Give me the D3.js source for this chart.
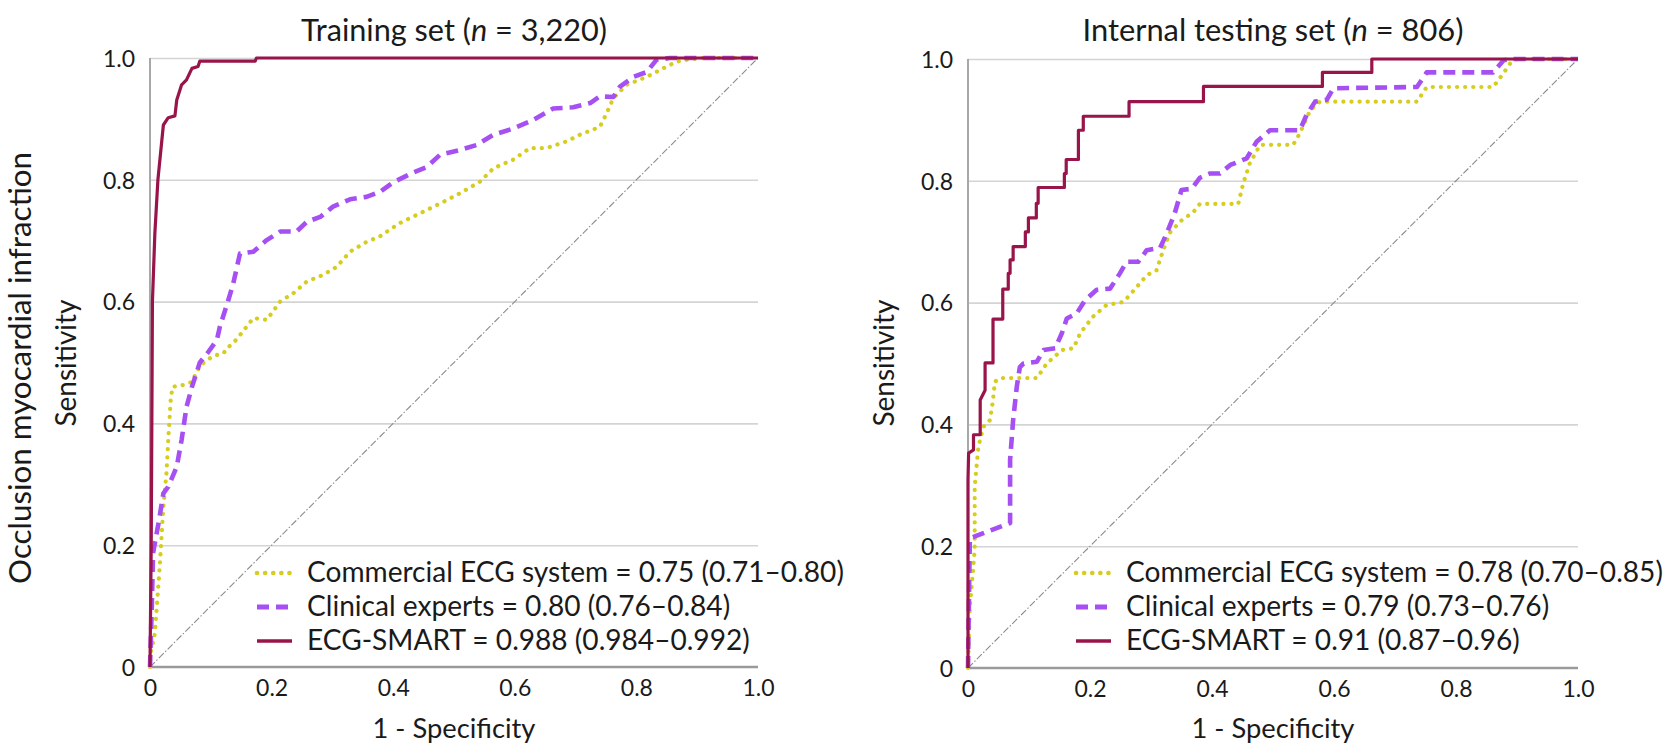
<!DOCTYPE html>
<html>
<head>
<meta charset="utf-8">
<script src="https://cdn.jsdelivr.net/npm/d3@7/dist/d3.min.js"></script>
<style>
  html, body { margin: 0; padding: 0; background: #fff; }
  svg { display: block; }
  text { font-family: Lato, "Open Sans", sans-serif; fill: #1a1a1a; }
</style>
</head>
<body>
<svg id="chart" width="1666" height="751"></svg>
<script>
// ---------------- DATA ----------------
const tickValues = [0, 0.2, 0.4, 0.6, 0.8, 1.0];
const tickLabels = ["0", "0.2", "0.4", "0.6", "0.8", "1.0"];

const panelTitles = ["Training set (", "Internal testing set ("];
const panelN = ["3,220", "806"];
const xAxisTitle = "1 - Specificity";
const yAxisTitle = "Sensitivity";
const outerTitle = "Occlusion myocardial infraction";

const seriesNames = ["Commercial ECG system", "Clinical experts", "ECG-SMART"];
const trainAUC = ["0.75 (0.71–0.80)", "0.80 (0.76–0.84)", "0.988 (0.984–0.992)"];
const testAUC = ["0.78 (0.70–0.85)", "0.79 (0.73–0.76)", "0.91 (0.87–0.96)"];

// Training set curves: [1 - specificity, sensitivity]
const trainCommercial = [[0,0],[0,0.017],[0.008,0.055],[0.016,0.165],[0.022,0.263],[0.027,0.318],[0.030,0.373],[0.034,0.438],[0.037,0.460],[0.055,0.463],[0.069,0.468],[0.082,0.495],[0.104,0.511],[0.121,0.515],[0.126,0.523],[0.137,0.532],[0.148,0.545],[0.170,0.573],[0.192,0.570],[0.214,0.600],[0.236,0.614],[0.258,0.633],[0.285,0.644],[0.307,0.657],[0.329,0.682],[0.356,0.698],[0.378,0.707],[0.411,0.729],[0.444,0.745],[0.477,0.761],[0.510,0.778],[0.543,0.797],[0.565,0.819],[0.597,0.833],[0.625,0.852],[0.652,0.852],[0.685,0.863],[0.707,0.874],[0.740,0.887],[0.751,0.909],[0.762,0.934],[0.784,0.956],[0.817,0.969],[0.844,0.983],[0.866,0.994],[0.888,0.998],[0.910,1.0],[1,1]];
const trainExperts = [[0,0],[0.003,0.100],[0.005,0.187],[0.014,0.236],[0.022,0.285],[0.030,0.296],[0.044,0.329],[0.052,0.373],[0.060,0.427],[0.069,0.460],[0.082,0.500],[0.095,0.516],[0.110,0.537],[0.115,0.559],[0.129,0.603],[0.137,0.630],[0.148,0.679],[0.170,0.682],[0.192,0.701],[0.214,0.715],[0.241,0.715],[0.258,0.731],[0.280,0.739],[0.301,0.756],[0.329,0.768],[0.356,0.772],[0.378,0.780],[0.400,0.796],[0.433,0.812],[0.455,0.821],[0.477,0.841],[0.510,0.849],[0.537,0.857],[0.565,0.874],[0.597,0.884],[0.630,0.898],[0.663,0.917],[0.696,0.919],[0.724,0.926],[0.740,0.937],[0.762,0.936],[0.773,0.953],[0.795,0.969],[0.817,0.977],[0.833,0.997],[0.855,1.0],[1,1]];
const trainSmart = [[0,0],[0.002,0.200],[0.003,0.400],[0.004,0.600],[0.008,0.712],[0.013,0.800],[0.019,0.860],[0.022,0.890],[0.030,0.902],[0.041,0.905],[0.044,0.931],[0.052,0.956],[0.060,0.964],[0.069,0.983],[0.079,0.986],[0.082,0.995],[0.173,0.995],[0.175,1.0],[1,1]];

// Internal testing set curves
const testCommercial = [[0,0],[0.003,0.100],[0.011,0.194],[0.011,0.298],[0.017,0.363],[0.025,0.396],[0.036,0.407],[0.041,0.440],[0.044,0.470],[0.052,0.476],[0.113,0.476],[0.129,0.500],[0.154,0.522],[0.173,0.525],[0.184,0.550],[0.205,0.577],[0.227,0.596],[0.255,0.601],[0.277,0.626],[0.293,0.645],[0.309,0.653],[0.320,0.686],[0.331,0.715],[0.350,0.735],[0.369,0.748],[0.380,0.762],[0.443,0.762],[0.451,0.795],[0.462,0.829],[0.479,0.859],[0.533,0.859],[0.544,0.878],[0.561,0.916],[0.577,0.930],[0.736,0.930],[0.752,0.954],[0.861,0.954],[0.878,0.977],[0.889,0.993],[0.900,1.0],[1,1]];
const testExperts = [[0,0],[0.003,0.213],[0.069,0.238],[0.069,0.342],[0.074,0.407],[0.080,0.462],[0.085,0.494],[0.091,0.500],[0.113,0.503],[0.124,0.522],[0.143,0.525],[0.154,0.550],[0.162,0.574],[0.178,0.582],[0.192,0.604],[0.211,0.621],[0.233,0.623],[0.249,0.648],[0.260,0.667],[0.279,0.667],[0.293,0.686],[0.315,0.690],[0.326,0.714],[0.339,0.747],[0.350,0.785],[0.367,0.787],[0.380,0.805],[0.397,0.812],[0.413,0.812],[0.430,0.826],[0.457,0.837],[0.473,0.864],[0.495,0.883],[0.544,0.883],[0.555,0.908],[0.569,0.930],[0.588,0.933],[0.599,0.952],[0.736,0.954],[0.752,0.978],[0.861,0.978],[0.878,0.998],[0.890,1.0],[1,1]];
const testSmart = [[0,0],[0,0.309],[0.001,0.353],[0.009,0.358],[0.009,0.383],[0.020,0.383],[0.020,0.440],[0.028,0.456],[0.028,0.501],[0.041,0.501],[0.041,0.573],[0.057,0.573],[0.057,0.622],[0.066,0.622],[0.066,0.648],[0.069,0.648],[0.069,0.670],[0.074,0.670],[0.074,0.692],[0.094,0.692],[0.094,0.716],[0.099,0.716],[0.099,0.739],[0.112,0.739],[0.112,0.763],[0.115,0.763],[0.115,0.789],[0.158,0.789],[0.158,0.812],[0.161,0.812],[0.161,0.835],[0.181,0.835],[0.181,0.883],[0.189,0.883],[0.189,0.906],[0.264,0.906],[0.264,0.930],[0.386,0.930],[0.386,0.955],[0.581,0.955],[0.581,0.978],[0.662,0.978],[0.662,1.0],[1,1]];

const diagonal = [[0,0],[1,1]];

// ---------------- STYLE ----------------
const colors = ["#d6cd1e", "#a64ff2", "#98144a"];
const widths = [4.2, 4.6, 3.2];
const dashes = ["0.1,8", "12,7", null];
const caps = ["round", "butt", "butt"];

const svg = d3.select("#chart");

function fitText(sel, target, base) {
  sel.style("font-size", base + "px");
  const w = sel.node().getComputedTextLength();
  if (w > 0) sel.style("font-size", (base * target / w).toFixed(2) + "px");
}

// legend font size derived from the measured width of the training-set first row
const probe = svg.append("text").style("font-size", "25px").text(seriesNames[0] + " = " + trainAUC[0]);
const legendFont = 25 * 537 / probe.node().getComputedTextLength();
probe.remove();

const panels = [
  { x0: 150, x1: 758, y0: 667, y1: 58, series: [trainCommercial, trainExperts, trainSmart], auc: trainAUC,
    titleW: 306, legX: 257 },
  { x0: 968, x1: 1578, y0: 668, y1: 59, series: [testCommercial, testExperts, testSmart], auc: testAUC,
    titleW: 381, legX: 1076 }
];

panels.forEach((p, pi) => {
  const x = d3.scaleLinear().domain([0, 1]).range([p.x0, p.x1]);
  const y = d3.scaleLinear().domain([0, 1]).range([p.y0, p.y1]);
  const g = svg.append("g");

  // gridlines
  const grid = g.append("g")
    .attr("transform", `translate(${p.x0},0)`)
    .call(d3.axisLeft(y).tickValues(tickValues.slice(1)).tickSize(-(p.x1 - p.x0)).tickFormat(""));
  grid.select(".domain").remove();
  grid.selectAll("line").attr("stroke", "#d4d4d4").attr("stroke-width", 1.6);

  // y axis labels
  const ya = g.append("g")
    .attr("transform", `translate(${p.x0},0)`)
    .call(d3.axisLeft(y).tickValues(tickValues).tickSize(0).tickPadding(15)
      .tickFormat((d, i) => tickLabels[i]));
  ya.select(".domain").remove();
  ya.selectAll("text").style("font-size", "23px").style("font-family", "Lato, sans-serif").attr("fill", "#1a1a1a").attr("dy", "0.36em");

  // x axis labels
  const xa = g.append("g")
    .attr("transform", `translate(0,${p.y0})`)
    .call(d3.axisBottom(x).tickValues(tickValues).tickSize(0).tickPadding(13)
      .tickFormat((d, i) => tickLabels[i]));
  xa.select(".domain").remove();
  xa.selectAll("text").style("font-size", "23px").style("font-family", "Lato, sans-serif").attr("fill", "#1a1a1a");

  // axis lines
  g.append("line").attr("x1", p.x0).attr("x2", p.x0).attr("y1", p.y1).attr("y2", p.y0)
    .attr("stroke", "#a8a8a8").attr("stroke-width", 2);
  g.append("line").attr("x1", p.x0).attr("x2", p.x1).attr("y1", p.y0).attr("y2", p.y0)
    .attr("stroke", "#9a9a9a").attr("stroke-width", 2.4);

  // diagonal reference
  g.append("path").datum(diagonal)
    .attr("d", d3.line().x(d => x(d[0])).y(d => y(d[1])))
    .attr("fill", "none").attr("stroke", "#8c8c8c").attr("stroke-width", 1.1)
    .attr("stroke-dasharray", "7,2,1.5,2");

  // ROC curves
  p.series.forEach((s, si) => {
    const path = g.append("path").datum(s)
      .attr("d", d3.line().x(d => x(d[0])).y(d => y(d[1])))
      .attr("fill", "none").attr("stroke", colors[si]).attr("stroke-width", widths[si])
      .attr("stroke-linecap", caps[si]).attr("stroke-linejoin", "round");
    if (dashes[si]) path.attr("stroke-dasharray", dashes[si]);
  });

  // title
  const cx = (p.x0 + p.x1) / 2;
  const t = g.append("text").attr("x", cx).attr("y", 41).attr("text-anchor", "middle");
  t.append("tspan").text(panelTitles[pi]);
  t.append("tspan").text("n").style("font-style", "italic");
  t.append("tspan").text(" = " + panelN[pi] + ")");
  fitText(t, p.titleW, 26);

  // x title
  const xt = g.append("text").attr("x", cx).attr("y", 738).attr("text-anchor", "middle").text(xAxisTitle);
  fitText(xt, 163, 24);

  // y title
  const ytx = p.x0 - 74;
  const yt = g.append("text").attr("transform", `translate(${ytx},363) rotate(-90)`)
    .attr("text-anchor", "middle").text(yAxisTitle);
  fitText(yt, 127, 24);

  // legend
  const rows = [582, 616, 650];
  seriesNames.forEach((name, si) => {
    const ly = rows[si] - 9;
    const ln = g.append("line").attr("x1", p.legX).attr("x2", p.legX + 35).attr("y1", ly).attr("y2", ly)
      .attr("stroke", colors[si]).attr("stroke-width", widths[si] + 0.4).attr("stroke-linecap", caps[si]);
    if (dashes[si]) ln.attr("stroke-dasharray", dashes[si]);
    g.append("text").attr("x", p.legX + 50).attr("y", rows[si])
      .style("font-size", legendFont.toFixed(2) + "px")
      .text(name + " = " + p.auc[si]);
  });
});

// outer y title
const ot = svg.append("text").attr("transform", "translate(31,368) rotate(-90)")
  .attr("text-anchor", "middle").text(outerTitle);
fitText(ot, 432, 28);
</script>
</body>
</html>
